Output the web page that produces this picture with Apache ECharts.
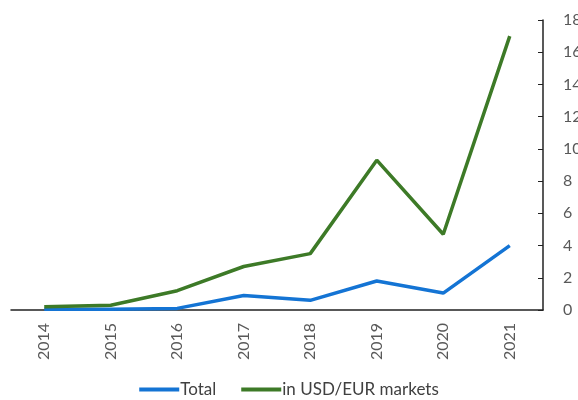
<!DOCTYPE html>
<html>
<head>
<meta charset="utf-8">
<script src="https://cdn.jsdelivr.net/npm/echarts@6/dist/echarts.min.js"></script>
<style>
  html, body { margin: 0; padding: 0; background: #fff; }
  #chart { width: 578px; height: 400px; }
</style>
</head>
<body>
<div id="chart"></div>
<script>
  var years = ['2014', '2015', '2016', '2017', '2018', '2019', '2020', '2021'];
  var total = [0.05, 0.05, 0.1, 0.9, 0.6, 1.8, 1.05, 4.0];
  var usdEur = [0.2, 0.3, 1.2, 2.7, 3.5, 9.3, 4.7, 17.0];

  var chart = echarts.init(document.getElementById('chart'));

  var option = {
    animation: false,
    textStyle: { fontFamily: 'Lato' },
    grid: { left: 11, right: 35, top: 20, bottom: 90, outerBoundsMode: 'none' },
    legend: {
      bottom: -3,
      left: 'center',
      icon: 'rect',
      itemWidth: 40,
      itemHeight: 4,
      itemGap: 25,
      textStyle: { color: '#404040', fontSize: 17, padding: [0, 0, 0, -4] },
      data: ['Total', 'in USD/EUR markets']
    },
    xAxis: {
      type: 'category',
      data: years,
      boundaryGap: true,
      axisLine: { lineStyle: { color: '#222', width: 1.5 } },
      axisTick: { inside: true, length: 5, lineStyle: { color: '#222' } },
      axisLabel: { rotate: 90, margin: 13, color: '#595959', fontSize: 16 }
    },
    yAxis: {
      type: 'value',
      position: 'right',
      min: 0,
      max: 18,
      interval: 2,
      splitLine: { show: false },
      axisLine: { show: true, lineStyle: { color: '#222', width: 1.5 } },
      axisTick: { show: true, inside: true, length: 5, lineStyle: { color: '#222' } },
      axisLabel: { margin: 20, color: '#595959', fontSize: 16 }
    },
    series: [
      {
        name: 'Total',
        type: 'line',
        data: total,
        symbol: 'none',
        color: '#1474d4',
        lineStyle: { width: 3.5, color: '#1474d4' }
      },
      {
        name: 'in USD/EUR markets',
        type: 'line',
        data: usdEur,
        symbol: 'none',
        color: '#3d7a27',
        lineStyle: { width: 3.5, color: '#3d7a27' }
      }
    ]
  };

  chart.setOption(option);
</script>
</body>
</html>
